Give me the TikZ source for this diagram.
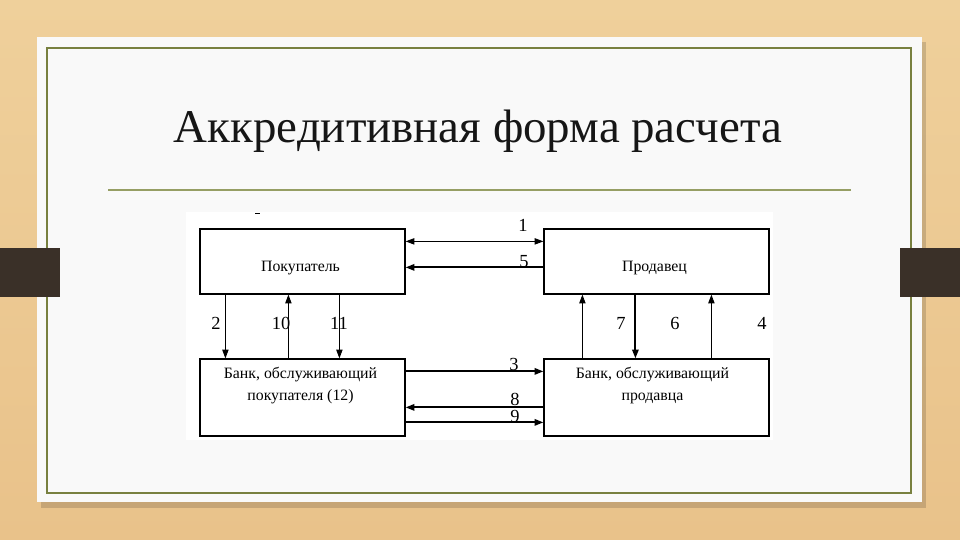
\documentclass[tikz,border=0pt]{standalone}
\usepackage{fontspec}
\setmainfont{Liberation Serif}
\usetikzlibrary{arrows.meta,positioning,calc}
\definecolor{wood}{RGB}{233,194,138}
\definecolor{woodlight}{RGB}{239,208,155}
\definecolor{slide}{RGB}{249,249,249}
\definecolor{frameolive}{RGB}{120,128,64}
\definecolor{ruleolive}{RGB}{150,158,100}
\definecolor{tab}{RGB}{58,48,40}
\definecolor{titlegray}{RGB}{22,22,22}

\begin{document}
\begin{tikzpicture}[x=0.02cm, y=-0.02cm,
    party/.style={draw, line width=0.7pt, inner sep=0pt},
    txt/.style={font=\fontsize{9}{13}\selectfont, align=center, inner sep=0pt},
    num/.style={font=\fontsize{10.5}{11}\selectfont, inner sep=0pt},
    arr/.style={-{Triangle[length=5pt, width=3.6pt]}, line width=0.55pt},
    tarr/.style={arr, line width=1.1pt},
    darr/.style={{Triangle[length=5pt, width=3.6pt]}-{Triangle[length=5pt, width=3.6pt]}, line width=0.55pt}
]
\useasboundingbox (0,0) rectangle (960,540);

% slide background
\shade[top color=woodlight, bottom color=wood] (0,0) rectangle (960,540);
\fill[black, opacity=0.15] (41,42) rectangle (926,508);
\fill[slide] (37,37) rectangle (922,502);
\draw[frameolive, line width=0.6pt] (47,48) rectangle (911,493);
\fill[tab] (0,248) rectangle (60,297);
\fill[tab] (900,248) rectangle (960,297);

\node[font=\fontsize{26.7}{30}\selectfont, text=titlegray] (title) at (478,131) {Аккредитивная форма расчета};
\draw[ruleolive, line width=0.6pt] (108,190) -- (851,190);

% diagram
\fill[white] (186,212) rectangle (773,440);
\draw[line width=0.5pt] (255,213) -- (260,213);

\node[party, minimum width=4.1cm, minimum height=1.3cm] (buyer) at (302.5,261.5) {};
\node[party, minimum width=4.5cm, minimum height=1.3cm] (seller) at (656.5,261.5) {};
\node[party, minimum width=4.1cm, minimum height=1.54cm] (bankb) at (302.5,397.5) {};
\node[party, minimum width=4.5cm, minimum height=1.54cm] (banks) at (656.5,397.5) {};

\node[txt] (buyertxt) at ($(buyer.center)+(-2,7)$) {Покупатель};
\node[txt] (sellertxt) at ($(seller.center)+(-2,7)$) {Продавец};
\node[txt] (bankbtxt) at ($(bankb.center)+(-2,-12)$) {Банк, обслуживающий\\покупателя (12)};
\node[txt] (bankstxt) at ($(banks.center)+(-4,-12)$) {Банк, обслуживающий\\продавца};

% top row
\draw[darr] ($(buyer.north east)+(0,13)$) -- ($(seller.north west)+(0,13)$);
\draw[tarr] ($(seller.north west)+(0,39)$) -- ($(buyer.north east)+(0,39)$);

% buyer side
\draw[arr] ($(buyer.south west)+(26,0)$) -- ($(bankb.north west)+(26,0)$);
\draw[arr] ($(bankb.north west)+(89,0)$) -- ($(buyer.south west)+(89,0)$);
\draw[arr] ($(buyer.south west)+(140,0)$) -- ($(bankb.north west)+(140,0)$);

% seller side
\draw[arr] ($(banks.north west)+(39,0)$) -- ($(seller.south west)+(39,0)$);
\draw[tarr] ($(seller.south west)+(92,0)$) -- ($(banks.north west)+(92,0)$);
\draw[arr] ($(banks.north west)+(168,0)$) -- ($(seller.south west)+(168,0)$);

% bottom row
\draw[tarr] ($(bankb.north east)+(0,13)$) -- ($(banks.north west)+(0,13)$);
\draw[tarr] ($(banks.north west)+(0,49)$) -- ($(bankb.north east)+(0,49)$);
\draw[tarr] ($(bankb.north east)+(0,64)$) -- ($(banks.north west)+(0,64)$);

% numbers
\node[num] (n1) at (523,225) {1};
\node[num] (n5) at (524,262) {5};
\node[num] (n2) at (216,323) {2};
\node[num] (n10) at (281,323) {10};
\node[num] (n11) at (339,323) {11};
\node[num] (n7) at (621,323) {7};
\node[num] (n6) at (675,323) {6};
\node[num] (n4) at (762,323) {4};
\node[num] (n3) at (514,364) {3};
\node[num] (n8) at (515,399) {8};
\node[num] (n9) at (515,416) {9};
\end{tikzpicture}
\end{document}
